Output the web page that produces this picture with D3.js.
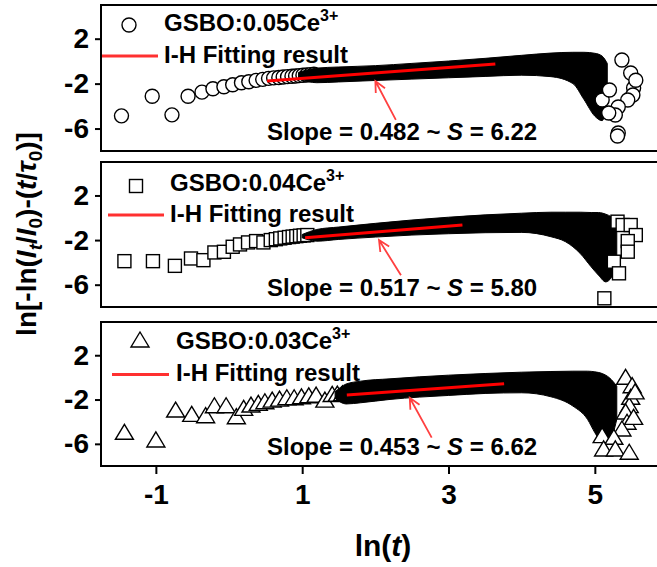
<!DOCTYPE html>
<html><head><meta charset="utf-8">
<script src="https://cdn.jsdelivr.net/npm/d3@7"></script>
<style>body{margin:0;background:#fff}</style>
</head><body>
<svg id="chart" width="657" height="567"></svg>
<script>
// ---------- data ----------
const xTicks = [-1, 1, 3, 5];
const yTicks = [2, -2, -6];
const sampleNames = ["GSBO:0.05Ce", "GSBO:0.04Ce", "GSBO:0.03Ce"];
const slopeValues = ["0.482", "0.517", "0.453"];
const sValues = ["6.22", "5.80", "6.62"];

// x = ln(t), y = ln[-ln(It/I0)-(t/tau0)]
// GSBO:0.05Ce3+ (circles)
const c05LeftX = [-1.47,-1.05,-0.78,-0.56,-0.37,-0.22,-0.07,0.05,0.17,0.27,0.37,0.46,0.54,0.61,0.68,0.74,0.80,0.86,0.91,0.96,1.01,1.06,1.11,1.16];
const c05LeftY = [-4.87,-3.12,-4.78,-3.12,-2.76,-2.46,-2.28,-2.10,-1.92,-1.83,-1.71,-1.62,-1.53,-1.49,-1.45,-1.41,-1.38,-1.35,-1.32,-1.29,-1.26,-1.23,-1.20,-1.17];
const c05BandX = [0.95,1.2,1.5,2.0,2.5,3.0,3.5,4.0,4.4,4.7,4.85,5.0,5.1,5.17];
const c05BandUp = [-1.00,-0.62,-0.52,-0.40,-0.20,0.01,0.25,0.52,0.72,0.79,0.79,0.70,0.45,-0.20];
const c05BandLo = [-1.60,-1.92,-1.85,-1.72,-1.60,-1.48,-1.36,-1.25,-1.38,-2.00,-3.40,-4.90,-5.30,-3.60];
const c05RightX = [5.10,5.20,5.37,5.49,5.53,5.52,5.45,5.32,5.28,5.19,5.32,5.31,5.56];
const c05RightY = [-3.46,-2.57,0.10,-1.06,-2.39,-3.01,-3.46,-4.08,-4.80,-4.62,-6.40,-6.66,-1.70];
const c05FitX = [0.52, 3.64], c05FitY = [-1.77, -0.26];
const c05ArrowX = [2.28, 2.00], c05ArrowY = [-5.23, -1.77];

// GSBO:0.04Ce3+ (squares)
const c04LeftX = [-1.43,-1.04,-0.74,-0.52,-0.35,-0.20,-0.07,0.05,0.15,0.26,0.37,0.47,0.57,0.64,0.70,0.76,0.82,0.87,0.92,0.97,1.02,1.07];
const c04LeftY = [-3.89,-3.89,-4.31,-3.65,-3.80,-3.11,-3.05,-2.60,-2.39,-2.21,-2.09,-2.21,-2.00,-1.92,-1.85,-1.79,-1.73,-1.69,-1.65,-1.61,-1.58,-1.55];
const c04BandX = [1.0,1.2,1.5,2.0,2.5,3.0,3.5,4.0,4.4,4.6,4.8,4.95,5.05,5.15,5.3];
const c04BandUp = [-1.50,-1.05,-0.83,-0.50,-0.20,0.05,0.26,0.41,0.50,0.50,0.50,0.47,0.47,0.32,-0.20];
const c04BandLo = [-1.80,-2.10,-1.94,-1.73,-1.55,-1.43,-1.34,-1.31,-1.70,-2.15,-3.20,-4.40,-5.15,-5.75,-4.55];
const c04RightX = [5.31,5.38,5.49,5.56,5.45,5.45,5.26,5.33,5.13];
const c04RightY = [-0.35,-0.65,-0.65,-1.55,-2.09,-3.04,-3.94,-4.98,-7.22];
const c04FitX = [1.04, 3.19], c04FitY = [-1.79, -0.65];
const c04ArrowX = [2.35, 2.05], c04ArrowY = [-5.15, -2.00];

// GSBO:0.03Ce3+ (triangles)
const c03LeftX = [-1.43,-1.00,-0.73,-0.51,-0.32,-0.20,-0.04,0.10,0.20,0.30,0.40,0.49,0.59,0.69,0.79,0.89,0.99,1.09,1.19,1.31,1.41,1.48,1.55];
const c03LeftY = [-5.05,-5.74,-3.04,-3.43,-3.55,-2.65,-2.65,-3.64,-2.89,-2.59,-2.44,-2.29,-2.14,-2.05,-1.93,-1.93,-1.84,-1.75,-1.69,-2.14,-1.63,-1.60,-1.57];
const c03BandX = [1.45,1.6,1.8,2.2,2.6,3.0,3.5,4.0,4.4,4.7,4.9,5.0,5.1,5.2,5.3];
const c03BandUp = [-1.30,-0.60,-0.34,-0.13,0.05,0.20,0.35,0.47,0.53,0.56,0.56,0.50,0.35,-0.04,-0.79];
const c03BandLo = [-1.90,-2.40,-2.29,-1.99,-1.78,-1.63,-1.45,-1.39,-1.75,-2.59,-3.79,-4.99,-5.89,-5.74,-3.79];
const c03RightX = [5.42,5.51,5.49,5.47,5.42,5.44,5.37,5.10,5.26,5.12,5.28,5.47,5.55,5.53];
const c03RightY = [-0.08,-0.84,-1.89,-2.64,-3.21,-4.14,-4.75,-5.35,-5.50,-6.55,-6.55,-6.85,-1.40,-3.70];
const c03FitX = [1.61, 3.76], c03FitY = [-1.60, -0.58];
const c03ArrowX = [2.77, 2.47], c03ArrowY = [-5.44, -1.84];

// ---------- layout ----------
const svg = d3.select("#chart");
const FONT = "'Liberation Sans', Arial, sans-serif";
const x = d3.scaleLinear().domain([-1.75, 6.0]).range([101, 668]);
const panelBox = [[5,151],[162,307],[322,466]];
const legendOff = [ {mk:20, t1:25.5, ln:51, t2:57.5, mx:129, lx0:102, lx1:158, tx:164},
                    {mk:24, t1:29, ln:53, t2:59.5, mx:136, lx0:108, lx1:164, tx:170},
                    {mk:19, t1:27, ln:52.5, t2:59, mx:140, lx0:112, lx1:169, tx:176} ];

function zipXY(xs, ys){ return xs.map((v,i)=>[v, ys[i]]); }
const panels = [
  {shape:"circle", left:zipXY(c05LeftX,c05LeftY), band:c05BandX.map((v,i)=>[v,c05BandUp[i],c05BandLo[i]]),
   right:zipXY(c05RightX,c05RightY), fit:zipXY(c05FitX,c05FitY), arrow:zipXY(c05ArrowX,c05ArrowY)},
  {shape:"square", left:zipXY(c04LeftX,c04LeftY), band:c04BandX.map((v,i)=>[v,c04BandUp[i],c04BandLo[i]]),
   right:zipXY(c04RightX,c04RightY), fit:zipXY(c04FitX,c04FitY), arrow:zipXY(c04ArrowX,c04ArrowY)},
  {shape:"triangle", left:zipXY(c03LeftX,c03LeftY), band:c03BandX.map((v,i)=>[v,c03BandUp[i],c03BandLo[i]]),
   right:zipXY(c03RightX,c03RightY), fit:zipXY(c03FitX,c03FitY), arrow:zipXY(c03ArrowX,c03ArrowY)}
];

function drawMarker(g, shape, px, py){
  if(shape==="circle") g.append("circle").attr("cx",px).attr("cy",py).attr("r",7);
  else if(shape==="square") g.append("rect").attr("x",px-6.5).attr("y",py-6.5).attr("width",13).attr("height",13);
  else g.append("path").attr("d",`M${px},${py-9}L${px+9},${py+6}L${px-9},${py+6}Z`);
}
const fmt = d => String(d);

panels.forEach((p, i) => {
  const [top, bot] = panelBox[i];
  const y = d3.scaleLinear().domain([-8, 5]).range([bot, top]);
  const g = svg.append("g");
  const mk = g.append("g").attr("fill","#fff").attr("stroke","#000").attr("stroke-width",1.4);

  p.left.forEach(d => drawMarker(mk, p.shape, x(d[0]), y(d[1])));
  const area = d3.area().x(d=>x(d[0])).y0(d=>y(d[2])).y1(d=>y(d[1])).curve(d3.curveMonotoneX);
  g.append("path").datum(p.band).attr("d", area).attr("fill","#000").attr("stroke","#000").attr("stroke-width",1).attr("stroke-linejoin","round");
  const mk2 = g.append("g").attr("fill","#fff").attr("stroke","#000").attr("stroke-width",1.4);
  p.right.forEach(d => drawMarker(mk2, p.shape, x(d[0]), y(d[1])));

  g.append("line").attr("x1",x(p.fit[0][0])).attr("y1",y(p.fit[0][1]))
    .attr("x2",x(p.fit[1][0])).attr("y2",y(p.fit[1][1]))
    .attr("stroke","#ff0000").attr("stroke-width",3);
  const sx=x(p.arrow[0][0]), sy=y(p.arrow[0][1]), tx=x(p.arrow[1][0]), ty=y(p.arrow[1][1]);
  const a = Math.atan2(ty-sy, tx-sx), L = 12;
  g.append("path").attr("d",`M${sx},${sy}L${tx},${ty}M${tx-L*Math.cos(a-0.45)},${ty-L*Math.sin(a-0.45)}L${tx},${ty}L${tx-L*Math.cos(a+0.45)},${ty-L*Math.sin(a+0.45)}`)
    .attr("fill","none").attr("stroke","#ff4040").attr("stroke-width",1.8);

  g.append("path").attr("d",`M670,${top}H101V${bot}H670`).attr("fill","none").attr("stroke","#000").attr("stroke-width",2);

  const ya = g.append("g").attr("transform","translate(101,0)")
    .call(d3.axisLeft(y).tickValues(yTicks).tickSize(6).tickPadding(6).tickFormat(fmt));
  ya.select(".domain").remove();
  ya.selectAll(".tick line").attr("stroke-width",2);
  ya.selectAll(".tick text").attr("font-family",FONT).attr("font-weight","bold").attr("font-size",28).attr("fill","#000");

  const lo = legendOff[i];
  const lm = g.append("g").attr("fill","#fff").attr("stroke","#000").attr("stroke-width",1.4);
  drawMarker(lm, p.shape, lo.mx, top+lo.mk);
  const t1 = g.append("text").attr("x",lo.tx).attr("y",top+lo.t1).attr("font-family",FONT).attr("font-weight","bold").attr("font-size",24);
  t1.append("tspan").text(sampleNames[i]);
  t1.append("tspan").attr("dy",-10).attr("font-size",16).text("3+");
  g.append("line").attr("x1",lo.lx0).attr("x2",lo.lx1).attr("y1",top+lo.ln).attr("y2",top+lo.ln).attr("stroke","#ff3030").attr("stroke-width",3);
  g.append("text").attr("x",lo.tx).attr("y",top+lo.t2).attr("font-family",FONT).attr("font-weight","bold").attr("font-size",24).text("I-H Fitting result");

  const st = g.append("text").attr("x",267).attr("y",bot-11).attr("font-family",FONT).attr("font-weight","bold").attr("font-size",24);
  st.append("tspan").text(`Slope = ${slopeValues[i]} ~ `);
  st.append("tspan").attr("font-style","italic").text("S");
  st.append("tspan").text(` = ${sValues[i]}`);

  if(i===2){
    const xa = g.append("g").attr("transform",`translate(0,${bot})`)
      .call(d3.axisBottom(x).tickValues(xTicks).tickSize(8).tickPadding(10).tickFormat(fmt));
    xa.select(".domain").remove();
    xa.selectAll(".tick line").attr("stroke-width",2);
    xa.selectAll(".tick text").attr("font-family",FONT).attr("font-weight","bold").attr("font-size",28).attr("fill","#000");
  }
});

const xt = svg.append("text").attr("x",383).attr("y",556).attr("text-anchor","middle")
  .attr("font-family",FONT).attr("font-weight","bold").attr("font-size",30);
xt.append("tspan").text("ln(");
xt.append("tspan").attr("font-style","italic").text("t");
xt.append("tspan").text(")");

const yt = svg.append("text").attr("transform","translate(36,234) rotate(-90)").attr("text-anchor","middle")
  .attr("font-family",FONT).attr("font-weight","bold").attr("font-size",28);
yt.append("tspan").text("ln[-ln(");
yt.append("tspan").attr("font-style","italic").text("I");
yt.append("tspan").attr("font-style","italic").attr("font-size",19).attr("dy",6).text("t");
yt.append("tspan").attr("dy",-6).text("/");
yt.append("tspan").attr("font-style","italic").text("I");
yt.append("tspan").attr("font-size",19).attr("dy",6).text("0");
yt.append("tspan").attr("dy",-6).text(")-(");
yt.append("tspan").attr("font-style","italic").text("t");
yt.append("tspan").text("/");
yt.append("tspan").attr("font-style","italic").text("τ");
yt.append("tspan").attr("font-size",19).attr("dy",6).text("0");
yt.append("tspan").attr("dy",-6).text(")]");
</script>
</body></html>
